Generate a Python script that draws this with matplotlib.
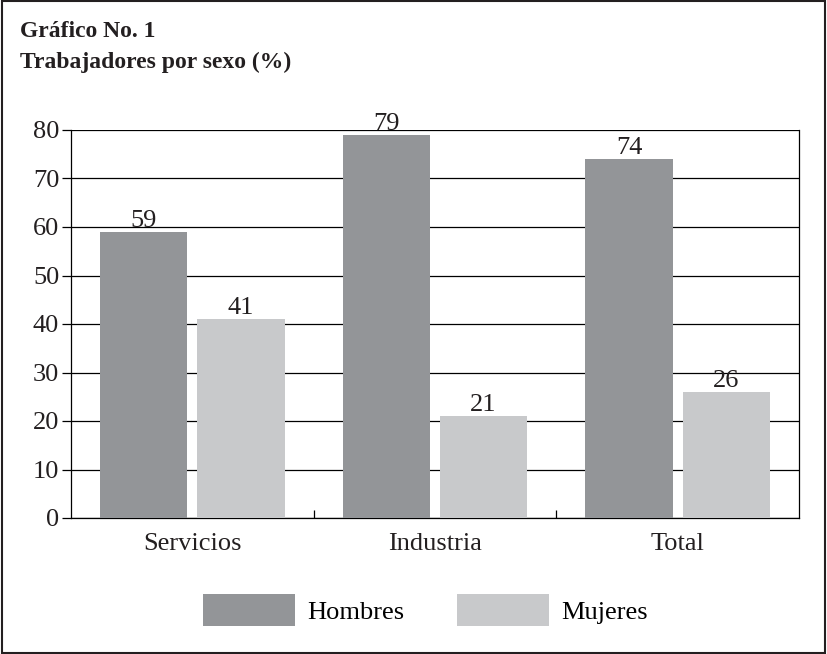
import numpy as np
import matplotlib.pyplot as plt
from matplotlib.patches import Rectangle

categorias = ["Servicios", "Industria", "Total"]
hombres = [59, 79, 74]
mujeres = [41, 21, 26]
series = ["Hombres", "Mujeres"]
colores = ["#939598", "#c8c9cb"]

plt.rcParams["font.family"] = ["Liberation Serif", "DejaVu Serif"]
plt.rcParams["font.size"] = 19
tinta = "#231f20"

fig = plt.figure(figsize=(8.27, 6.54), dpi=100)
ax = fig.add_axes([71 / 827, 1 - 518 / 654, 728 / 827, 388 / 654])

x = np.arange(len(categorias))
ancho = 0.36
desp = 0.2
for vals, off, col, nom in zip([hombres, mujeres], [-desp, desp], colores, series):
    barras = ax.bar(x + off, vals, ancho, color=col, label=nom, zorder=3)
    for b, v in zip(barras, vals):
        ax.annotate(str(v), (b.get_x() + b.get_width() / 2, v), xytext=(0, 0),
                    textcoords="offset points", ha="center", va="bottom",
                    fontsize=19, color=tinta)

ax.set_xlim(-0.5, 2.5)
ax.set_ylim(0, 80)
ax.set_yticks(range(0, 81, 10))
ax.yaxis.grid(True, color="black", linewidth=0.9, zorder=0)
ax.set_axisbelow(True)

ax.set_xticks(x)
ax.set_xticklabels(categorias, fontsize=19, color=tinta)
ax.tick_params(axis="x", which="major", length=0, pad=11)
ax.set_xticks([0.5, 1.5], minor=True)
ax.tick_params(axis="x", which="minor", direction="in", length=6, width=0.9)
ax.tick_params(axis="y", direction="out", length=6.5, width=0.9, pad=2,
               labelsize=19, labelcolor=tinta)

for lado in ["left", "right", "bottom"]:
    ax.spines[lado].set_linewidth(0.9)
ax.spines["top"].set_visible(False)

fig.text(20 / 827, 1 - 37 / 654, "Gráfico No. 1", fontsize=17, fontweight="bold",
         color=tinta, va="baseline")
fig.text(20 / 827, 1 - 68 / 654, "Trabajadores por sexo (%)", fontsize=17,
         fontweight="bold", color=tinta, va="baseline")

fig.legend(loc="center", bbox_to_anchor=(425 / 827, 1 - 610 / 654), ncol=2,
           frameon=False, fontsize=19, handlelength=3.5, handleheight=1.45,
           handletextpad=0.45, columnspacing=2.0, borderpad=0, borderaxespad=0)

fig.patches.append(Rectangle((0.002, 0.002), 0.996, 0.996, transform=fig.transFigure,
                             fill=False, edgecolor=tinta, linewidth=1.5))

fig.savefig("out.png", dpi=100)
